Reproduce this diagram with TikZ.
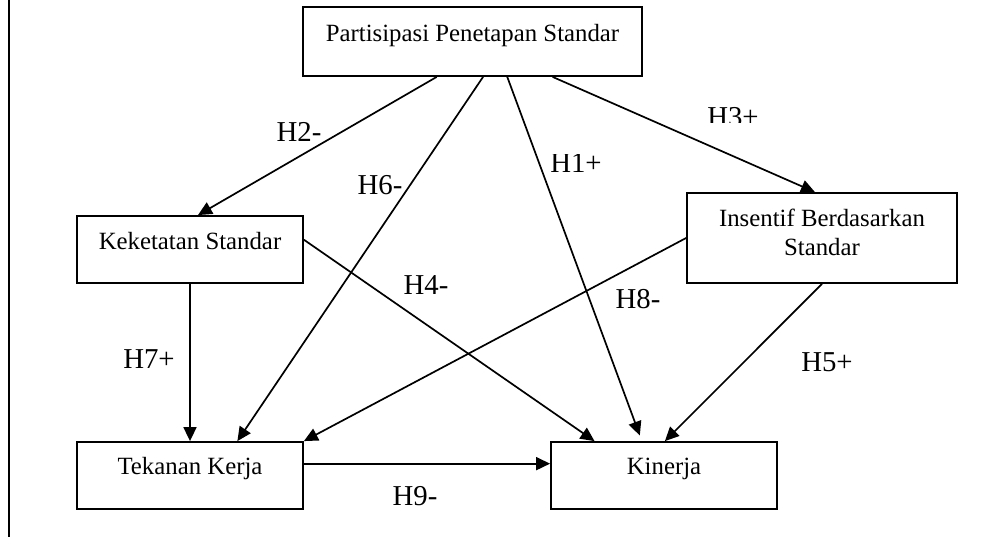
\documentclass[tikz,border=0pt]{standalone}
\usepackage{fontspec}
\setmainfont{Liberation Serif}
\usetikzlibrary{arrows.meta,calc}
\begin{document}
\begin{tikzpicture}[x=1pt,y=-1pt,
  box/.style={draw,line width=1.8pt,inner sep=0pt},
  boxtext/.style={inner sep=0pt,anchor=base,font=\fontsize{24.8}{29}\selectfont},
  hyp/.style={inner sep=0pt,font=\fontsize{28.8}{34}\selectfont},
  link/.style={line width=1.7pt,-{Triangle[length=14pt,width=13pt]}}]
\useasboundingbox (0,0) rectangle (994,537);

% page margin rule on the left
\draw[line width=2pt] (9,0) -- (9,537);

% variable boxes
\node[box,minimum width=339pt,minimum height=69pt] (ps) at (472.5,41.5) {};
\node[box,minimum width=226pt,minimum height=67pt] (kk) at (190,249.5) {};
\node[box,minimum width=270pt,minimum height=90pt] (ib) at (822,238) {};
\node[box,minimum width=226pt,minimum height=67pt] (tk) at (190,475.5) {};
\node[box,minimum width=226pt,minimum height=67pt] (kn) at (664,475.5) {};

% box captions, set near the top of each box
\node[boxtext] (pst)  at (472.5,42) {Partisipasi Penetapan Standar};
\node[boxtext] (kkt)  at (190,250) {Keketatan Standar};
\node[boxtext] (ibt1) at (822,227) {Insentif Berdasarkan};
\node[boxtext] (ibt2) at (822,256) {Standar};
\node[boxtext] (tkt)  at (190,475) {Tekanan Kerja};
\node[boxtext] (knt)  at (664,475) {Kinerja};

% hypothesised paths
\draw[link] ($(ps.south west)!0.395!(ps.south east)$) -- ($(kk.north west)!0.535!(kk.north east)$); % H2
\draw[link] ($(ps.south west)!0.531!(ps.south east)$) -- ($(tk.north west)!0.708!(tk.north east)$); % H6
\draw[link,shorten >=6pt] ($(ps.south west)!0.602!(ps.south east)$) -- ($(kn.north west)!0.403!(kn.north east)$); % H1
\draw[link] ($(ps.south west)!0.735!(ps.south east)$) -- ($(ib.north west)!0.474!(ib.north east)$); % H3
\draw[link] ($(kk.north east)!0.358!(kk.south east)$) -- ($(kn.north west)!0.195!(kn.north east)$); % H4
\draw[link] (kk.south) -- (tk.north); % H7
\draw[link] (ib.west) -- (tk.north east); % H8
\draw[link] (ib.south) -- ($(kn.north west)!0.504!(kn.north east)$); % H5
\draw[link] ($(tk.north east)!0.328!(tk.south east)$) -- ($(kn.north west)!0.328!(kn.south west)$); % H9

% path labels
\node[hyp] (h2) at (299,132) {H2-};
\node[hyp] (h6) at (380,185) {H6-};
\begin{scope}
  \clip (540,155) rectangle (615,190);
  \node[hyp] (h1) at (576,163) {H1+};
\end{scope}
\begin{scope}
  \clip (690,90) rectangle (780,123);
  \node[hyp] (h3) at (733,117.5) {H3+};
\end{scope}
\node[hyp] (h4) at (426,285) {H4-};
\node[hyp] (h8) at (638,299) {H8-};
\node[hyp] (h7) at (149,359) {H7+};
\node[hyp] (h5) at (827,362) {H5+};
\node[hyp] (h9) at (415,496) {H9-};
\end{tikzpicture}
\end{document}
